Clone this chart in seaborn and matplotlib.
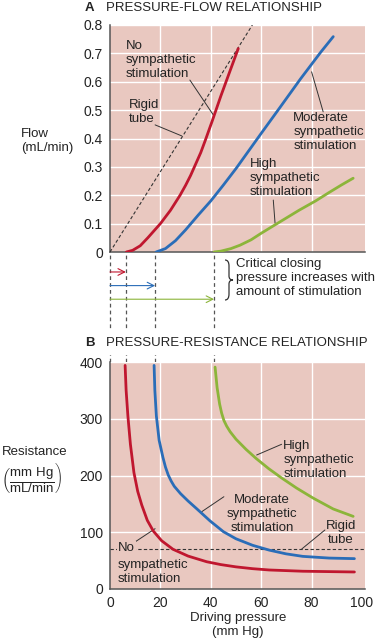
import matplotlib.pyplot as plt
from matplotlib.path import Path
from matplotlib.patches import PathPatch
import numpy as np
import pandas as pd
import seaborn as sns

# --- values ---
crit_pressure = [6.3, 17.9, 41.3]

no_p = [6.5, 9, 12, 15, 20, 24, 27.8, 30, 32, 34, 36, 37.8, 40.5, 44, 47.5, 50.9]
no_f = [0, 0.006, 0.022, 0.05, 0.1, 0.147, 0.2, 0.235, 0.27, 0.31, 0.35, 0.393, 0.46, 0.55, 0.635, 0.717]
mod_p = [18.3, 22, 26, 30, 35, 40, 45, 50, 55, 60, 67.5, 75.6, 83.7, 88.6]
mod_f = [0, 0.012, 0.04, 0.078, 0.13, 0.18, 0.236, 0.294, 0.356, 0.418, 0.51, 0.61, 0.705, 0.759]
high_p = [41.3, 44, 48, 51.6, 56, 60, 64.8, 70, 75, 81.6, 87, 92, 96.5]
high_f = [0, 0.003, 0.012, 0.024, 0.043, 0.066, 0.092, 0.12, 0.147, 0.18, 0.21, 0.237, 0.26]
rigid_p = [0, 56.5]
rigid_f = [0, 0.8]

no_rp = [6, 6.4, 7.1, 8.1, 9.5, 11, 12.6, 14.8, 17.2, 20.5, 25, 31, 38.4, 44, 50, 56.6, 63.2, 76.5, 97]
no_r = [394, 350, 305, 255, 205, 172, 148, 121, 102, 85, 70, 58, 48, 43, 39, 35.8, 33.5, 31.3, 30]
mod_rp = [17.5, 17.8, 18.4, 19.5, 21, 22, 23.1, 24.3, 25.5, 28, 31, 34.4, 39.7, 45, 50,
          56.6, 63.2, 69.8, 76.5, 87, 97]
mod_r = [394, 350, 305, 262, 232, 215, 201, 190, 181, 168, 155, 141.5, 120, 101, 88.5,
         77, 68.5, 62, 57.5, 54.5, 53.5]
high_rp = [41.7, 42.5, 43.5, 44.3, 45.2, 46.3, 47.7, 50, 54, 58, 63, 68, 74, 80.7, 88.6, 96.5]
high_r = [391, 355, 326, 310, 297, 287, 277, 264, 246, 230, 212, 196, 178, 160, 141, 128]
rigid_rp = [0, 101]
rigid_r = [71, 71]

flow_ticks = [0, 0.1, 0.2, 0.3, 0.4, 0.5, 0.6, 0.7, 0.8]
flow_labels = ['0', '0.1', '0.2', '0.3', '0.4', '0.5', '0.6', '0.7', '0.8']
res_ticks = [0, 100, 200, 300, 400]
press_ticks = [0, 20, 40, 60, 80, 100]

RED, BLUE, GREEN = '#c0172f', '#2a6db8', '#8cb53a'
BG = '#e9c8c0'
DARK = '#232323'


def long_df(parts):
    frames = [pd.DataFrame({'p': p, 'v': v, 'curve': name}) for name, p, v in parts]
    return pd.concat(frames, ignore_index=True)


def px(x, y):
    # figure pixel position -> figure fraction
    return x / 376, 1 - y / 640


def main():
    sns.set_theme(style='white', rc={'axes.facecolor': BG})
    plt.rcParams['font.family'] = ['Liberation Sans', 'DejaVu Sans']
    plt.rcParams['mathtext.fontset'] = 'custom'
    plt.rcParams['mathtext.rm'] = 'Liberation Sans'
    plt.rcParams['text.color'] = DARK

    fig = plt.figure(figsize=(3.76, 6.4), dpi=100)
    ax1 = fig.add_axes([110 / 376, 1 - 252 / 640, 255 / 376, 227 / 640])
    ax2 = fig.add_axes([110 / 376, 1 - 589 / 640, 255 / 376, 227 / 640])

    palette = {'no': RED, 'mod': BLUE, 'high': GREEN}
    flow = long_df([('no', no_p, no_f), ('mod', mod_p, mod_f), ('high', high_p, high_f)])
    res = long_df([('no', no_rp, no_r), ('mod', mod_rp, mod_r), ('high', high_rp, high_r)])

    for ax, df, rp, rv in [(ax1, flow, rigid_p, rigid_f), (ax2, res, rigid_rp, rigid_r)]:
        sns.lineplot(x=rp, y=rv, ax=ax, color='#333333', lw=0.8,
                     linestyle=(0, (3, 2)), zorder=3)
        sns.lineplot(data=df, x='p', y='v', hue='curve', palette=palette,
                     estimator=None, sort=False, lw=2.0, legend=False, ax=ax, zorder=4)
        ax.set_xlim(0, 101.2)
        ax.set_xlabel('')
        ax.set_ylabel('')
        ax.grid(True, color='white', lw=1.0)
        ax.set_axisbelow(True)
        for s in ['top', 'right']:
            ax.spines[s].set_visible(False)
        for s in ['left', 'bottom']:
            ax.spines[s].set_color('#555555')
            ax.spines[s].set_linewidth(1.1)
        ax.tick_params(length=0, pad=5, labelsize=10, labelcolor=DARK)

    ax1.set_ylim(0, 0.8)
    ax1.set_yticks(flow_ticks, flow_labels)
    ax1.set_xticks(press_ticks[1:-1])
    ax1.tick_params(axis='x', labelbottom=False)

    ax2.set_ylim(0, 400)
    ax2.set_yticks(res_ticks)
    ax2.set_xticks(press_ticks)
    ax2.get_xgridlines()[-1].set_visible(False)
    ax2.get_xgridlines()[0].set_visible(False)

    # dashed guides from the critical closing pressures down to panel B
    for x in [0] + crit_pressure:
        ax1.axvline(x, ymin=-110 / 227, ymax=0, clip_on=False, color='#555555',
                    lw=0.9, linestyle=(0, (3, 2.5)), zorder=1)

    # arrows showing the critical closing pressure
    tr = ax1.get_xaxis_transform()
    for x, c, yf in zip(crit_pressure, [RED, BLUE, GREEN], [-0.088, -0.148, -0.208]):
        ax1.annotate('', xy=(x, yf), xytext=(0, yf), xycoords=tr, textcoords=tr,
                     arrowprops=dict(arrowstyle='->', color=c, lw=0.8,
                                     shrinkA=0, shrinkB=0),
                     annotation_clip=False)

    fs = 9.5
    lead = dict(color='#333333', lw=0.7)

    # panel A labels
    ax1.text(6.35, 0.677, 'No\nsympathetic\nstimulation', fontsize=fs, va='center')
    ax1.plot([31.7, 41.0], [0.606, 0.483], **lead)
    ax1.text(7.66, 0.492, 'Rigid\ntube', fontsize=fs, va='center')
    ax1.plot([17.9, 28.5], [0.448, 0.409], **lead)
    ax1.text(72.7, 0.423, 'Moderate\nsympathetic\nstimulation', fontsize=fs, va='center')
    ax1.plot([80.0, 84.6], [0.635, 0.494], **lead)
    ax1.text(55.6, 0.261, 'High\nsympathetic\nstimulation', fontsize=fs, va='center')
    ax1.plot([64.8, 65.5], [0.183, 0.102], **lead)

    # panel B labels
    ax2.text(3.2, 73, 'No', fontsize=fs, va='center', zorder=6,
             bbox=dict(facecolor=BG, edgecolor='none', pad=0.5))
    ax2.text(3.2, 30, 'sympathetic\nstimulation', fontsize=fs, va='center')
    ax2.plot([9.9, 17.9], [82.8, 106.3], **lead)
    ax2.text(60.3, 132, 'Moderate\nsympathetic\nstimulation', fontsize=fs,
             va='center', ha='center')
    ax2.plot([36.4, 45.2], [136.2, 162.6], **lead)
    ax2.text(68.8, 227, 'High\nsympathetic\nstimulation', fontsize=fs, va='center')
    ax2.plot([58.2, 68.1], [236.1, 255], **lead)
    ax2.text(91.7, 98.7, 'Rigid\ntube', fontsize=fs, va='center', ha='center')
    ax2.plot([76.1, 85.3], [70.5, 104], **lead)

    # titles (white box hides the dashed guides behind the B title)
    fig.text(*px(85, 8), 'A', fontsize=fs, fontweight='bold', va='center')
    fig.text(*px(106, 8), 'PRESSURE-FLOW RELATIONSHIP', fontsize=fs, va='center')
    fig.text(*px(85, 343), 'B', fontsize=fs, fontweight='bold', va='center')
    fig.text(*px(106, 343), 'PRESSURE-RESISTANCE RELATIONSHIP', fontsize=fs,
             va='center', zorder=5,
             bbox=dict(facecolor='white', edgecolor='none', pad=4))

    # axis labels
    fig.text(*px(20.7, 141), 'Flow\n(mL/min)', fontsize=fs, va='center')
    fig.text(*px(1.7, 452), 'Resistance', fontsize=fs, va='center')
    fig.text(*px(32, 478),
             r'$\left(\dfrac{\mathrm{mm\ Hg}}{\mathrm{mL/min}}\right)$',
             fontsize=fs, va='center', ha='center')
    fig.text(*px(238, 625), 'Driving pressure\n(mm Hg)', fontsize=fs,
             va='center', ha='center')

    # curly brace and critical closing note
    pts = [(225, 260), (229, 260), (229, 266), (229, 276), (229, 280), (233, 280),
           (229, 280), (229, 284), (229, 294), (229, 300), (225, 300)]
    codes = [Path.MOVETO, Path.CURVE3, Path.CURVE3, Path.LINETO, Path.CURVE3,
             Path.CURVE3, Path.CURVE3, Path.CURVE3, Path.LINETO, Path.CURVE3, Path.CURVE3]
    brace = Path([px(x, y) for x, y in pts], codes)
    fig.add_artist(PathPatch(brace, transform=fig.transFigure, fill=False,
                             edgecolor='#333333', lw=0.9))
    fig.text(*px(236, 278),
             'Critical closing\npressure increases with\namount of stimulation',
             fontsize=fs, va='center')

    plt.savefig('out.png', dpi=100)


if __name__ == '__main__':
    main()
